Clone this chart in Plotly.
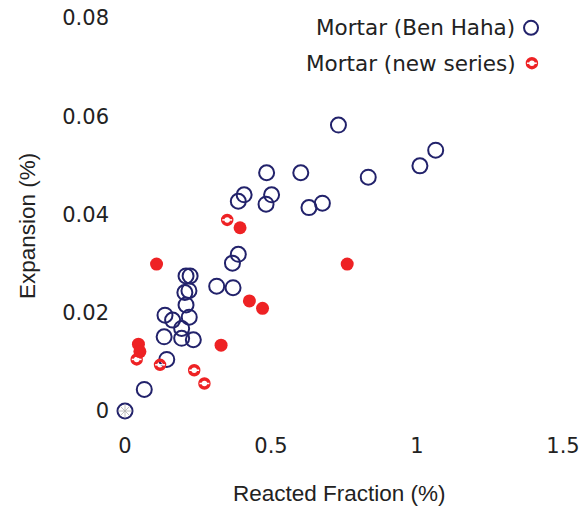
import plotly.graph_objects as go

# Mortar (Ben Haha): reacted fraction (%) vs expansion (%)
ben_haha_rf = [0.000, 0.066, 0.143, 0.134, 0.194, 0.234, 0.194, 0.137, 0.163, 0.220,
               0.209, 0.205, 0.219, 0.209, 0.223, 0.314, 0.370, 0.368, 0.388, 0.388,
               0.408, 0.483, 0.502, 0.485, 0.602, 0.630, 0.676, 0.731, 0.833, 1.010, 1.064]
ben_haha_exp = [0.0000, 0.0044, 0.0105, 0.0151, 0.0148, 0.0145, 0.0168, 0.0195, 0.0185, 0.0191,
                0.0216, 0.0241, 0.0245, 0.0275, 0.0275, 0.0254, 0.0251, 0.0301, 0.0319, 0.0427,
                0.0440, 0.0421, 0.0440, 0.0485, 0.0485, 0.0414, 0.0423, 0.0582, 0.0476, 0.0499, 0.0531]

# Mortar (new series), solid points
new_solid_rf = [0.108, 0.046, 0.051, 0.329, 0.394, 0.426, 0.471, 0.761]
new_solid_exp = [0.0299, 0.0136, 0.0121, 0.0134, 0.0373, 0.0224, 0.0209, 0.0299]

# Mortar (new series), ring points
new_ring_rf = [0.040, 0.120, 0.237, 0.272, 0.350]
new_ring_exp = [0.0105, 0.0094, 0.0083, 0.0056, 0.0389]

x_ticks = [0, 0.5, 1, 1.5]
x_tick_text = ["0", "0.5", "1", "1.5"]
y_ticks = [0, 0.02, 0.04, 0.06, 0.08]
y_tick_text = ["0", "0.02", "0.04", "0.06", "0.08"]

legend_labels = ["Mortar (Ben Haha)", "Mortar (new series)"]
x_title = "Reacted Fraction (%)"
y_title = "Expansion (%)"

NAVY = "#22226b"
RED = "#ee2224"
TICK_FONT = dict(family="DejaVu Sans", size=21, color="#222222")
LEGEND_FONT = dict(family="DejaVu Sans", size=21.5, color="#222222")
TITLE_FONT = dict(family="Liberation Sans", size=22.5, color="#222222")

fig = go.Figure()

fig.add_trace(go.Scatter(
    x=ben_haha_rf, y=ben_haha_exp, mode="markers", cliponaxis=False,
    marker=dict(symbol="circle-open", size=15, color=NAVY, line=dict(width=2, color=NAVY)),
    showlegend=False,
))
# light spokes inside the origin marker
fig.add_trace(go.Scatter(
    x=ben_haha_rf[:1], y=ben_haha_exp[:1], mode="markers", cliponaxis=False,
    marker=dict(symbol="asterisk-open", size=12, color="#b0b0b0",
                line=dict(width=0.8, color="#b0b0b0")),
    showlegend=False,
))
fig.add_trace(go.Scatter(
    x=new_solid_rf, y=new_solid_exp, mode="markers", cliponaxis=False,
    marker=dict(symbol="circle", size=13, color=RED, line=dict(width=0)),
    showlegend=False,
))
fig.add_trace(go.Scatter(
    x=new_ring_rf, y=new_ring_exp, mode="markers", cliponaxis=False,
    marker=dict(symbol="circle-open", size=9, color=RED, line=dict(width=3.5, color=RED)),
    showlegend=False,
))
fig.add_trace(go.Scatter(
    x=new_ring_rf, y=new_ring_exp, mode="markers", cliponaxis=False,
    marker=dict(symbol="line-ew-open", size=7, color="white", line=dict(width=1.5, color="white")),
    showlegend=False,
))

# legend keys drawn on an overlay axis in fractional plot coordinates
key_x = [0.927, 0.929]
key_y = [0.975, 0.885]
fig.add_trace(go.Scatter(
    x=key_x[:1], y=key_y[:1], xaxis="x2", yaxis="y2", mode="markers", cliponaxis=False,
    marker=dict(symbol="circle-open", size=14, color=NAVY, line=dict(width=2, color=NAVY)),
    showlegend=False, hoverinfo="skip",
))
fig.add_trace(go.Scatter(
    x=key_x[1:], y=key_y[1:], xaxis="x2", yaxis="y2", mode="markers", cliponaxis=False,
    marker=dict(symbol="circle-open", size=9, color=RED, line=dict(width=3.5, color=RED)),
    showlegend=False, hoverinfo="skip",
))
fig.add_trace(go.Scatter(
    x=key_x[1:], y=key_y[1:], xaxis="x2", yaxis="y2", mode="markers", cliponaxis=False,
    marker=dict(symbol="line-ew-open", size=7, color="white", line=dict(width=1.5, color="white")),
    showlegend=False, hoverinfo="skip",
))

annotations = []
for lbl, kx, ky in zip(legend_labels, key_x, key_y):
    annotations.append(dict(
        xref="x2", yref="y2", x=kx - 0.032, y=ky, text=lbl, showarrow=False,
        xanchor="right", yanchor="middle", font=LEGEND_FONT,
    ))
# axis titles
annotations.append(dict(
    xref="paper", yref="paper", x=0.4886, y=-0.2087, text=x_title, showarrow=False,
    xanchor="center", yanchor="middle", font=TITLE_FONT,
))
annotations.append(dict(
    xref="paper", yref="paper", x=-0.2237, y=0.4707, text=y_title, showarrow=False,
    xanchor="center", yanchor="middle", textangle=-90, font=TITLE_FONT,
))

fig.update_layout(
    width=581, height=510,
    margin=dict(l=125, r=18, t=18, b=99),
    paper_bgcolor="white", plot_bgcolor="white",
    showlegend=False,
    xaxis=dict(
        range=[0, 1.5], tickvals=x_ticks, ticktext=x_tick_text,
        showgrid=False, zeroline=False, showline=False, ticks="",
        tickfont=TICK_FONT, ticklabelstandoff=20, automargin=False,
    ),
    yaxis=dict(
        range=[0, 0.08], tickvals=y_ticks, ticktext=y_tick_text,
        showgrid=False, zeroline=False, showline=False, ticks="",
        tickfont=TICK_FONT, ticklabelstandoff=15, automargin=False,
    ),
    xaxis2=dict(overlaying="x", range=[0, 1], visible=False, automargin=False),
    yaxis2=dict(overlaying="y", range=[0, 1], visible=False, automargin=False),
    annotations=annotations,
)

fig.write_html("out.html")
